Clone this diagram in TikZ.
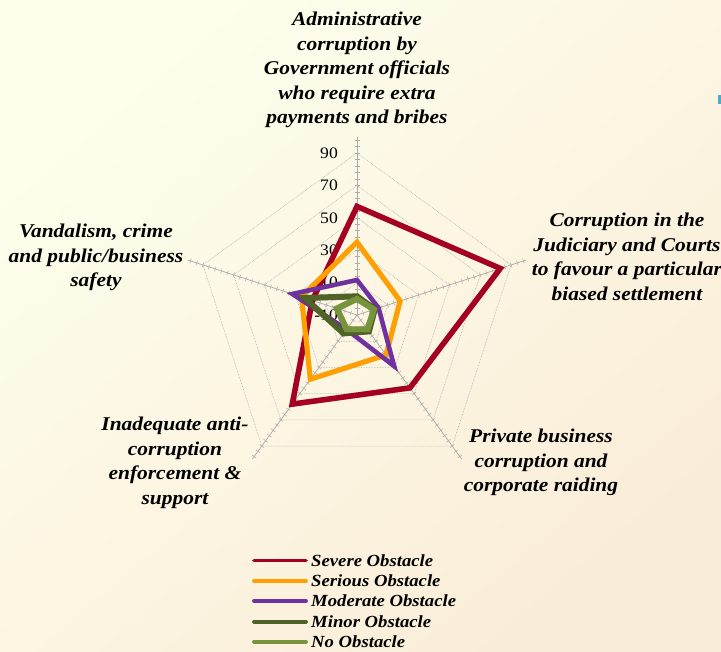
\documentclass[tikz,border=0pt]{standalone}
\usepackage{fontspec}
\setmainfont{Liberation Serif}[FakeStretch=1.1]
\usetikzlibrary{calc}
\definecolor{sevc}{HTML}{A50021}
\definecolor{serc}{HTML}{FFA000}
\definecolor{modc}{HTML}{7030A0}
\definecolor{minc}{HTML}{4F6228}
\definecolor{noc}{HTML}{77933C}
\definecolor{bgA}{HTML}{FDFEEC}
\definecolor{bgB}{HTML}{FAEDD8}
\definecolor{gridc}{HTML}{ABABAB}
\definecolor{markc}{HTML}{4BACC6}
\newcommand\radarpoly[6]{%
  \draw[#1, shift={(C)}] (90:{(#2+10)*1.62}) -- (18:{(#3+10)*1.62}) -- (-54:{(#4+10)*1.62}) -- (-126:{(#5+10)*1.62}) -- (162:{(#6+10)*1.62}) -- cycle;}
\newcommand\radarserie[7]{%
  \radarpoly{black, opacity=0.18, line width=#2, xshift=1.5pt, yshift=-1.8pt}{#3}{#4}{#5}{#6}{#7}%
  \radarpoly{#1, line width=#2, miter limit=10}{#3}{#4}{#5}{#6}{#7}}
\begin{document}
\begin{tikzpicture}[x=1pt,y=1pt,
  lbl/.style={font=\fontsize{19.5}{24.5}\selectfont\bfseries\itshape, align=center, inner sep=0pt},
  tlbl/.style={font=\fontsize{16}{18}\selectfont, anchor=east, inner sep=0pt},
  gridline/.style={gridc, line width=0.6pt, densely dotted},
  axisline/.style={gridc, line width=0.7pt},
  tickline/.style={gridc, line width=0.5pt},
  leg/.style={font=\fontsize{17}{20}\selectfont\bfseries\itshape, anchor=west, inner sep=0pt},
  legline/.style={line width=3.8pt, line cap=round},
]
\shade[top color=bgA, bottom color=bgB, shading angle=40] (0,0) rectangle (721,652);
\useasboundingbox (0,0) rectangle (721,652);
\fill[markc] (718,548) rectangle (721,557);
\coordinate (C) at (357,337);
% grid
\foreach \v in {10,30,50,70,90} {
  \pgfmathsetmacro\rr{(\v+10)*1.62}
  \draw[gridline, shift={(C)}] (90:\rr) -- (18:\rr) -- (-54:\rr) -- (-126:\rr) -- (162:\rr) -- cycle;
}
% axes and ticks
\foreach \a in {90,18,-54,-126,162} {
  \draw[axisline] (C) -- ++(\a:178);
  \foreach \k in {1,...,27} {
    \pgfmathsetmacro\rr{\k*4*1.62}
    \draw[tickline] ($(C)+(\a:\rr)+(\a+90:2.5)$) -- ($(C)+(\a:\rr)+(\a-90:2.5)$);
  }
}
% tick labels
\foreach \v/\n in {-10/a,10/b,30/c,50/d,70/e,90/f} {
  \node[tlbl] (tick\n) at ($(C)+(-19,{(\v+10)*1.62})$) {\v};
}
% series
\radarserie{sevc}{5.5pt}{57}{83}{45.6}{58}{19}
\radarserie{serc}{5pt}{35}{18}{20.5}{39}{26}
\radarserie{modc}{4.5pt}{11.6}{4}{29}{1}{32}
\radarserie{minc}{6pt}{1.5}{1.5}{2.5}{4}{24}
\radarserie{noc}{6pt}{0}{1}{1}{1}{3}
% category labels
\node[lbl] (top) at (357,582) {Administrative\\corruption by\\Government officials\\who require extra\\payments and bribes};
\node[lbl] (right) at (627,395) {Corruption in the\\Judiciary and Courts\\to favour a particular\\biased settlement};
\node[lbl] (lowright) at (541,189.5) {Private business\\corruption and\\corporate raiding};
\node[lbl] (lowleft) at (175,189) {Inadequate anti-\\corruption\\enforcement \&\\support};
\node[lbl] (left) at (96,394.5) {Vandalism, crime\\and public/business\\safety};
% legend
\node[leg] (l1) at (311,91.5) {Severe Obstacle};
\node[leg] (l2) at (311,71.3) {Serious Obstacle};
\node[leg] (l3) at (311,51) {Moderate Obstacle};
\node[leg] (l4) at (311,30.3) {Minor Obstacle};
\node[leg] (l5) at (311,10.3) {No Obstacle};
\coordinate (s1) at (254,91.5);
\coordinate (s2) at (254,71.3);
\coordinate (s3) at (254,51);
\coordinate (s4) at (254,30.3);
\coordinate (s5) at (254,10.3);
\draw[legline, sevc] (s1) -- ([xshift=-5pt]l1.west);
\draw[legline, serc] (s2) -- ([xshift=-5pt]l2.west);
\draw[legline, modc] (s3) -- ([xshift=-5pt]l3.west);
\draw[legline, minc] (s4) -- ([xshift=-5pt]l4.west);
\draw[legline, noc] (s5) -- ([xshift=-5pt]l5.west);
\end{tikzpicture}
\end{document}
